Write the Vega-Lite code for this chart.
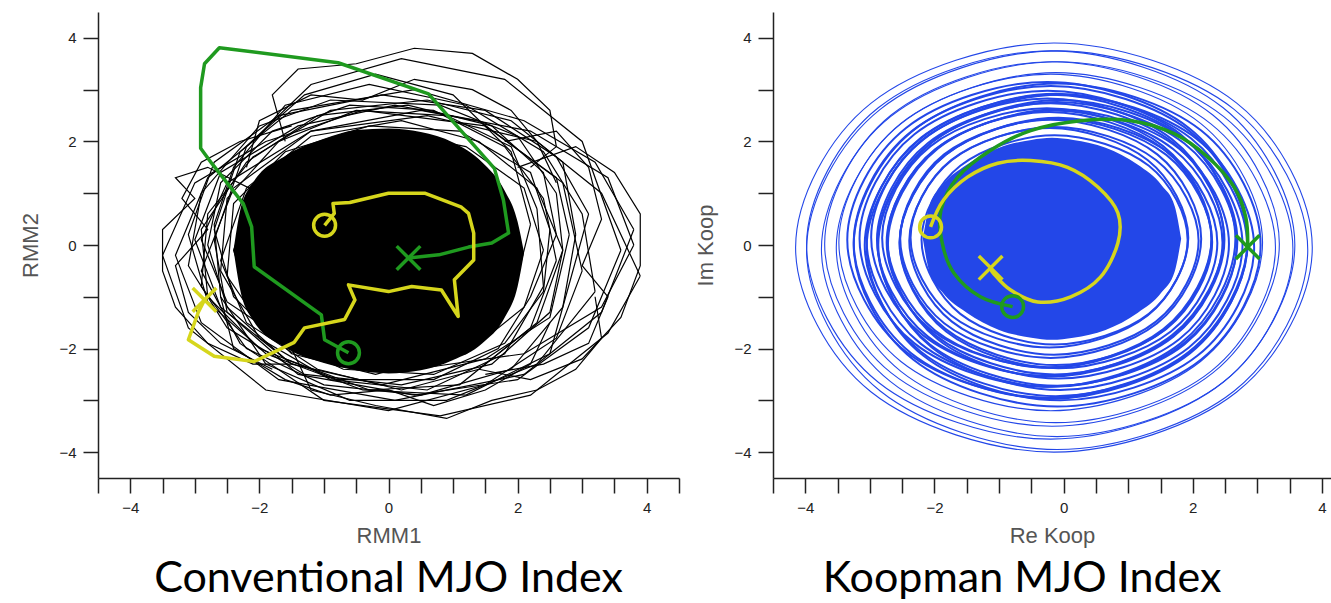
{
  "$schema": "https://vega.github.io/schema/vega-lite/v6.json",
  "padding": {"left": 19, "top": 12, "right": 0, "bottom": 0},
  "spacing": 14,
  "background": "white",
  "config": {
    "view": {"stroke": null},
    "axis": {
      "grid": false,
      "domainColor": "#222",
      "domainWidth": 1.5,
      "tickColor": "#222",
      "tickWidth": 1.5,
      "tickSize": 15,
      "labelFont": "Liberation Sans",
      "labelFontSize": 15,
      "labelColor": "#222",
      "labelPadding": 7,
      "labelOverlap": false,
      "labelFlush": false,
      "format": "d",
      "titleFont": "Liberation Sans",
      "titleFontSize": 22,
      "titleFontWeight": "normal",
      "titleColor": "#555",
      "values": [-4, -3, -2, -1, 0, 1, 2, 3, 4],
      "labelExpr": "datum.value % 2 == 0 ? datum.label : ''"
    },
    "axisX": {"titlePadding": 10},
    "axisY": {"titlePadding": 16},
    "title": {"font": "Lato", "fontSize": 43, "fontWeight": "normal", "color": "#000", "orient": "bottom", "anchor": "middle", "offset": 12}
  },
  "datasets": {
    "coreL": [
      {"x": -2.4, "yt": -0.1, "yb": -0.1}, {"x": -2.3, "yt": 0.65, "yb": -0.85}, {"x": -2.1, "yt": 1.2, "yb": -1.45},
      {"x": -1.6, "yt": 1.72, "yb": -1.98}, {"x": -1.0, "yt": 2.05, "yb": -2.28}, {"x": -0.5, "yt": 2.22, "yb": -2.42},
      {"x": 0.0, "yt": 2.25, "yb": -2.48}, {"x": 0.5, "yt": 2.18, "yb": -2.42}, {"x": 1.0, "yt": 1.98, "yb": -2.22},
      {"x": 1.45, "yt": 1.6, "yb": -1.9}, {"x": 1.8, "yt": 1.05, "yb": -1.4}, {"x": 2.0, "yt": 0.45, "yb": -0.8},
      {"x": 2.1, "yt": -0.15, "yb": -0.15}
    ],
    "loopsL": [
      {"k": "L1", "i": 0, "x": 3.8, "y": 0.3}, {"k": "L1", "i": 1, "x": 3.2, "y": 1.6}, {"k": "L1", "i": 2, "x": 2.1, "y": 2.4}, {"k": "L1", "i": 3, "x": 0.4, "y": 3.0}, {"k": "L1", "i": 4, "x": -1.5, "y": 2.6}, {"k": "L1", "i": 5, "x": -2.8, "y": 1.3}, {"k": "L1", "i": 6, "x": -3.3, "y": -0.2}, {"k": "L1", "i": 7, "x": -2.9, "y": -1.5}, {"k": "L1", "i": 8, "x": -1.7, "y": -2.6}, {"k": "L1", "i": 9, "x": 0.1, "y": -3.0}, {"k": "L1", "i": 10, "x": 2.1, "y": -2.5}, {"k": "L1", "i": 11, "x": 3.3, "y": -1.3}, {"k": "L1", "i": 12, "x": 3.8, "y": 0.3},
      {"k": "L2", "i": 0, "x": 3.6, "y": -0.1}, {"k": "L2", "i": 1, "x": 3.0, "y": 2.0}, {"k": "L2", "i": 2, "x": 1.8, "y": 3.2}, {"k": "L2", "i": 3, "x": 0.2, "y": 3.6}, {"k": "L2", "i": 4, "x": -1.2, "y": 3.1}, {"k": "L2", "i": 5, "x": -2.2, "y": 1.9}, {"k": "L2", "i": 6, "x": -2.7, "y": 0.1}, {"k": "L2", "i": 7, "x": -2.5, "y": -1.3}, {"k": "L2", "i": 8, "x": -1.4, "y": -2.5}, {"k": "L2", "i": 9, "x": 0.4, "y": -2.9}, {"k": "L2", "i": 10, "x": 2.0, "y": -2.6}, {"k": "L2", "i": 11, "x": 3.1, "y": -1.6}, {"k": "L2", "i": 12, "x": 3.6, "y": -0.1},
      {"k": "L3", "i": 0, "x": 3.0, "y": -0.5}, {"k": "L3", "i": 1, "x": 2.7, "y": 1.2}, {"k": "L3", "i": 2, "x": 1.5, "y": 2.3}, {"k": "L3", "i": 3, "x": -0.4, "y": 2.6}, {"k": "L3", "i": 4, "x": -1.9, "y": 2.0}, {"k": "L3", "i": 5, "x": -3.0, "y": 1.2}, {"k": "L3", "i": 6, "x": -3.5, "y": -0.2}, {"k": "L3", "i": 7, "x": -3.1, "y": -1.6}, {"k": "L3", "i": 8, "x": -1.9, "y": -2.8}, {"k": "L3", "i": 9, "x": 0.0, "y": -3.2}, {"k": "L3", "i": 10, "x": 1.5, "y": -2.7}, {"k": "L3", "i": 11, "x": 2.6, "y": -1.8}, {"k": "L3", "i": 12, "x": 3.0, "y": -0.5},
      {"k": "L4", "i": 0, "x": 3.9, "y": -0.6}, {"k": "L4", "i": 1, "x": 3.3, "y": 1.0}, {"k": "L4", "i": 2, "x": 2.3, "y": 2.0}, {"k": "L4", "i": 3, "x": 0.6, "y": 2.5}, {"k": "L4", "i": 4, "x": -1.2, "y": 2.2}, {"k": "L4", "i": 5, "x": -2.4, "y": 1.1}, {"k": "L4", "i": 6, "x": -2.9, "y": -0.5}, {"k": "L4", "i": 7, "x": -2.3, "y": -1.9}, {"k": "L4", "i": 8, "x": -1.0, "y": -3.0}, {"k": "L4", "i": 9, "x": 0.8, "y": -3.3}, {"k": "L4", "i": 10, "x": 2.2, "y": -2.9}, {"k": "L4", "i": 11, "x": 3.4, "y": -1.7}, {"k": "L4", "i": 12, "x": 3.9, "y": -0.6},
      {"k": "L5", "i": 0, "x": 2.8, "y": 0.2}, {"k": "L5", "i": 1, "x": 2.6, "y": 1.3}, {"k": "L5", "i": 2, "x": 1.4, "y": 2.4}, {"k": "L5", "i": 3, "x": 0.1, "y": 2.7}, {"k": "L5", "i": 4, "x": -1.4, "y": 2.3}, {"k": "L5", "i": 5, "x": -2.6, "y": 1.4}, {"k": "L5", "i": 6, "x": -3.0, "y": 0.1}, {"k": "L5", "i": 7, "x": -2.6, "y": -1.2}, {"k": "L5", "i": 8, "x": -1.5, "y": -2.3}, {"k": "L5", "i": 9, "x": -0.1, "y": -2.7}, {"k": "L5", "i": 10, "x": 1.5, "y": -2.2}, {"k": "L5", "i": 11, "x": 2.5, "y": -1.4}, {"k": "L5", "i": 12, "x": 2.8, "y": 0.2},
      {"k": "L6", "i": 0, "x": 2.7, "y": -0.1}, {"k": "L6", "i": 1, "x": 2.3, "y": 1.1}, {"k": "L6", "i": 2, "x": 1.4, "y": 2.0}, {"k": "L6", "i": 3, "x": 0.2, "y": 2.4}, {"k": "L6", "i": 4, "x": -1.2, "y": 2.1}, {"k": "L6", "i": 5, "x": -2.2, "y": 1.1}, {"k": "L6", "i": 6, "x": -2.6, "y": -0.3}, {"k": "L6", "i": 7, "x": -2.2, "y": -1.5}, {"k": "L6", "i": 8, "x": -1.1, "y": -2.4}, {"k": "L6", "i": 9, "x": 0.2, "y": -2.8}, {"k": "L6", "i": 10, "x": 1.4, "y": -2.4}, {"k": "L6", "i": 11, "x": 2.3, "y": -1.5}, {"k": "L6", "i": 12, "x": 2.7, "y": -0.1},
      {"k": "L7", "i": 0, "x": 2.2, "y": 0.4}, {"k": "L7", "i": 1, "x": 1.9, "y": 1.8}, {"k": "L7", "i": 2, "x": 1.0, "y": 2.9}, {"k": "L7", "i": 3, "x": -0.2, "y": 3.3}, {"k": "L7", "i": 4, "x": -1.3, "y": 2.9}, {"k": "L7", "i": 5, "x": -2.3, "y": 1.8}, {"k": "L7", "i": 6, "x": -2.7, "y": 0.3}, {"k": "L7", "i": 7, "x": -2.4, "y": -1.0}, {"k": "L7", "i": 8, "x": -1.5, "y": -2.1}, {"k": "L7", "i": 9, "x": -0.2, "y": -2.5}, {"k": "L7", "i": 10, "x": 1.0, "y": -2.1}, {"k": "L7", "i": 11, "x": 1.9, "y": -1.1}, {"k": "L7", "i": 12, "x": 2.2, "y": 0.4},
      {"k": "L8", "i": 0, "x": 3.8, "y": 0.0}, {"k": "L8", "i": 1, "x": 3.4, "y": 1.3}, {"k": "L8", "i": 2, "x": 2.2, "y": 2.2}, {"k": "L8", "i": 3, "x": 0.5, "y": 2.6}, {"k": "L8", "i": 4, "x": -1.2, "y": 2.2}, {"k": "L8", "i": 5, "x": -2.5, "y": 1.2}, {"k": "L8", "i": 6, "x": -2.9, "y": 0.1}, {"k": "L8", "i": 7, "x": -2.5, "y": -1.1}, {"k": "L8", "i": 8, "x": -1.3, "y": -2.1}, {"k": "L8", "i": 9, "x": 0.4, "y": -2.4}, {"k": "L8", "i": 10, "x": 2.1, "y": -2.1}, {"k": "L8", "i": 11, "x": 3.3, "y": -1.2}, {"k": "L8", "i": 12, "x": 3.8, "y": 0.0},
      {"k": "L9", "i": 0, "x": -1.6, "y": 2.0}, {"k": "L9", "i": 1, "x": -1.8, "y": 2.9}, {"k": "L9", "i": 2, "x": -1.4, "y": 3.4}, {"k": "L9", "i": 3, "x": -0.5, "y": 3.5}, {"k": "L9", "i": 4, "x": 0.4, "y": 3.8}, {"k": "L9", "i": 5, "x": 1.3, "y": 3.7}, {"k": "L9", "i": 6, "x": 2.0, "y": 3.2}, {"k": "L9", "i": 7, "x": 2.5, "y": 2.6}, {"k": "L9", "i": 8, "x": 2.6, "y": 1.9}, {"k": "L9", "i": 9, "x": 2.2, "y": 1.5},
      {"k": "L10", "i": 0, "x": 2.0, "y": 1.5}, {"k": "L10", "i": 1, "x": 2.9, "y": 1.9}, {"k": "L10", "i": 2, "x": 3.5, "y": 1.4}, {"k": "L10", "i": 3, "x": 3.9, "y": 0.6}, {"k": "L10", "i": 4, "x": 3.9, "y": -0.4}, {"k": "L10", "i": 5, "x": 3.6, "y": -1.4}, {"k": "L10", "i": 6, "x": 3.0, "y": -2.2}, {"k": "L10", "i": 7, "x": 2.2, "y": -2.6}, {"k": "L10", "i": 8, "x": 1.4, "y": -2.4},
      {"k": "L11", "i": 0, "x": -1.5, "y": -2.0}, {"k": "L11", "i": 1, "x": -1.2, "y": -2.8}, {"k": "L11", "i": 2, "x": -0.2, "y": -3.1}, {"k": "L11", "i": 3, "x": 0.9, "y": -3.35}, {"k": "L11", "i": 4, "x": 1.6, "y": -3.0}, {"k": "L11", "i": 5, "x": 2.3, "y": -2.8}, {"k": "L11", "i": 6, "x": 2.9, "y": -2.4}, {"k": "L11", "i": 7, "x": 3.3, "y": -1.8}, {"k": "L11", "i": 8, "x": 3.2, "y": -1.0},
      {"k": "L12", "i": 0, "x": -2.0, "y": 1.0}, {"k": "L12", "i": 1, "x": -2.8, "y": 1.5}, {"k": "L12", "i": 2, "x": -3.3, "y": 1.3}, {"k": "L12", "i": 3, "x": -3.0, "y": 0.9}, {"k": "L12", "i": 4, "x": -3.5, "y": 0.3}, {"k": "L12", "i": 5, "x": -3.5, "y": -0.5}, {"k": "L12", "i": 6, "x": -3.3, "y": -1.2}, {"k": "L12", "i": 7, "x": -2.8, "y": -1.9}, {"k": "L12", "i": 8, "x": -2.1, "y": -2.3}, {"k": "L12", "i": 9, "x": -1.5, "y": -2.3},
      {"k": "L13", "i": 0, "x": 2.4, "y": -0.1}, {"k": "L13", "i": 1, "x": 2.1, "y": 1.1}, {"k": "L13", "i": 2, "x": 1.2, "y": 1.9}, {"k": "L13", "i": 3, "x": 0.0, "y": 2.2}, {"k": "L13", "i": 4, "x": -1.2, "y": 1.9}, {"k": "L13", "i": 5, "x": -2.1, "y": 1.0}, {"k": "L13", "i": 6, "x": -2.4, "y": -0.1}, {"k": "L13", "i": 7, "x": -2.1, "y": -1.3}, {"k": "L13", "i": 8, "x": -1.2, "y": -2.1}, {"k": "L13", "i": 9, "x": 0.0, "y": -2.4}, {"k": "L13", "i": 10, "x": 1.2, "y": -2.1}, {"k": "L13", "i": 11, "x": 2.1, "y": -1.2}, {"k": "L13", "i": 12, "x": 2.4, "y": -0.1},
      {"k": "L14", "i": 0, "x": 2.5, "y": 0.3}, {"k": "L14", "i": 1, "x": 2.2, "y": 1.4}, {"k": "L14", "i": 2, "x": 1.1, "y": 2.2}, {"k": "L14", "i": 3, "x": -0.3, "y": 2.3}, {"k": "L14", "i": 4, "x": -1.6, "y": 1.8}, {"k": "L14", "i": 5, "x": -2.4, "y": 0.8}, {"k": "L14", "i": 6, "x": -2.5, "y": -0.6}, {"k": "L14", "i": 7, "x": -1.9, "y": -1.7}, {"k": "L14", "i": 8, "x": -0.7, "y": -2.4}, {"k": "L14", "i": 9, "x": 0.7, "y": -2.5}, {"k": "L14", "i": 10, "x": 1.8, "y": -1.9}, {"k": "L14", "i": 11, "x": 2.4, "y": -0.9}, {"k": "L14", "i": 12, "x": 2.5, "y": 0.3},
      {"k": "L15", "i": 0, "x": 3.1, "y": 0.6}, {"k": "L15", "i": 1, "x": 2.6, "y": 1.7}, {"k": "L15", "i": 2, "x": 1.5, "y": 2.6}, {"k": "L15", "i": 3, "x": -0.1, "y": 2.9}, {"k": "L15", "i": 4, "x": -1.7, "y": 2.5}, {"k": "L15", "i": 5, "x": -2.7, "y": 1.6}, {"k": "L15", "i": 6, "x": -3.1, "y": 0.2}, {"k": "L15", "i": 7, "x": -2.8, "y": -1.1}, {"k": "L15", "i": 8, "x": -1.9, "y": -2.1}, {"k": "L15", "i": 9, "x": -0.4, "y": -2.8}, {"k": "L15", "i": 10, "x": 1.2, "y": -2.9}, {"k": "L15", "i": 11, "x": 2.5, "y": -2.1}, {"k": "L15", "i": 12, "x": 3.1, "y": 0.6},
      {"k": "L16", "i": 0, "x": 2.6, "y": -0.3}, {"k": "L16", "i": 1, "x": 2.4, "y": 0.9}, {"k": "L16", "i": 2, "x": 1.8, "y": 1.9}, {"k": "L16", "i": 3, "x": 0.7, "y": 2.6}, {"k": "L16", "i": 4, "x": -0.6, "y": 2.7}, {"k": "L16", "i": 5, "x": -1.8, "y": 2.2}, {"k": "L16", "i": 6, "x": -2.6, "y": 1.2}, {"k": "L16", "i": 7, "x": -2.8, "y": 0.0}, {"k": "L16", "i": 8, "x": -2.5, "y": -1.2}, {"k": "L16", "i": 9, "x": -1.6, "y": -2.2}, {"k": "L16", "i": 10, "x": -0.3, "y": -2.8}, {"k": "L16", "i": 11, "x": 1.1, "y": -2.7}, {"k": "L16", "i": 12, "x": 2.2, "y": -1.6}, {"k": "L16", "i": 13, "x": 2.6, "y": -0.3},
      {"k": "L17", "i": 0, "x": 2.9, "y": 0.2}, {"k": "L17", "i": 1, "x": 2.7, "y": 1.6}, {"k": "L17", "i": 2, "x": 1.9, "y": 2.4}, {"k": "L17", "i": 3, "x": 0.6, "y": 2.8}, {"k": "L17", "i": 4, "x": -0.9, "y": 2.6}, {"k": "L17", "i": 5, "x": -2.1, "y": 1.7}, {"k": "L17", "i": 6, "x": -2.8, "y": 0.6}, {"k": "L17", "i": 7, "x": -2.9, "y": -0.8}, {"k": "L17", "i": 8, "x": -2.2, "y": -2.0}, {"k": "L17", "i": 9, "x": -1.0, "y": -2.7}, {"k": "L17", "i": 10, "x": 0.5, "y": -2.9}, {"k": "L17", "i": 11, "x": 1.9, "y": -2.4}, {"k": "L17", "i": 12, "x": 2.7, "y": -1.2}, {"k": "L17", "i": 13, "x": 2.9, "y": 0.2},
      {"k": "L18", "i": 0, "x": 2.3, "y": 0.7}, {"k": "L18", "i": 1, "x": 1.9, "y": 1.9}, {"k": "L18", "i": 2, "x": 0.9, "y": 2.5}, {"k": "L18", "i": 3, "x": -0.5, "y": 2.6}, {"k": "L18", "i": 4, "x": -1.7, "y": 2.0}, {"k": "L18", "i": 5, "x": -2.5, "y": 0.9}, {"k": "L18", "i": 6, "x": -2.6, "y": -0.5}, {"k": "L18", "i": 7, "x": -2.0, "y": -1.8}, {"k": "L18", "i": 8, "x": -0.9, "y": -2.6}, {"k": "L18", "i": 9, "x": 0.6, "y": -2.8}, {"k": "L18", "i": 10, "x": 1.8, "y": -2.1}, {"k": "L18", "i": 11, "x": 2.4, "y": -0.8}, {"k": "L18", "i": 12, "x": 2.3, "y": 0.7},
      {"k": "L19", "i": 0, "x": 3.2, "y": -0.9}, {"k": "L19", "i": 1, "x": 3.0, "y": 0.6}, {"k": "L19", "i": 2, "x": 2.4, "y": 1.8}, {"k": "L19", "i": 3, "x": 1.2, "y": 2.7}, {"k": "L19", "i": 4, "x": -0.3, "y": 3.1}, {"k": "L19", "i": 5, "x": -1.6, "y": 2.7}, {"k": "L19", "i": 6, "x": -2.4, "y": 1.5}, {"k": "L19", "i": 7, "x": -2.7, "y": 0.4}, {"k": "L19", "i": 8, "x": -2.6, "y": -1.0}, {"k": "L19", "i": 9, "x": -1.9, "y": -2.3}, {"k": "L19", "i": 10, "x": -0.6, "y": -3.0}, {"k": "L19", "i": 11, "x": 0.9, "y": -3.0}, {"k": "L19", "i": 12, "x": 2.3, "y": -2.3}, {"k": "L19", "i": 13, "x": 3.2, "y": -0.9},
      {"k": "L20", "i": 0, "x": 2.6, "y": 1.0}, {"k": "L20", "i": 1, "x": 2.0, "y": 2.1}, {"k": "L20", "i": 2, "x": 0.8, "y": 2.7}, {"k": "L20", "i": 3, "x": -0.9, "y": 2.8}, {"k": "L20", "i": 4, "x": -2.0, "y": 2.3}, {"k": "L20", "i": 5, "x": -2.9, "y": 1.0}, {"k": "L20", "i": 6, "x": -3.1, "y": -0.4}, {"k": "L20", "i": 7, "x": -2.5, "y": -1.6}, {"k": "L20", "i": 8, "x": -1.3, "y": -2.5}, {"k": "L20", "i": 9, "x": 0.2, "y": -2.7}, {"k": "L20", "i": 10, "x": 1.6, "y": -2.3}, {"k": "L20", "i": 11, "x": 2.5, "y": -1.3}, {"k": "L20", "i": 12, "x": 2.7, "y": -0.1}, {"k": "L20", "i": 13, "x": 2.6, "y": 1.0},
      {"k": "L21", "i": 0, "x": 2.2, "y": -1.0}, {"k": "L21", "i": 1, "x": 2.6, "y": 0.2}, {"k": "L21", "i": 2, "x": 2.4, "y": 1.4}, {"k": "L21", "i": 3, "x": 1.6, "y": 2.3}, {"k": "L21", "i": 4, "x": 0.3, "y": 2.7}, {"k": "L21", "i": 5, "x": -1.1, "y": 2.5}, {"k": "L21", "i": 6, "x": -2.2, "y": 1.6}, {"k": "L21", "i": 7, "x": -2.9, "y": 0.3}, {"k": "L21", "i": 8, "x": -2.8, "y": -1.0}, {"k": "L21", "i": 9, "x": -2.0, "y": -2.0}, {"k": "L21", "i": 10, "x": -0.8, "y": -2.6}, {"k": "L21", "i": 11, "x": 0.7, "y": -2.6}, {"k": "L21", "i": 12, "x": 1.7, "y": -2.0}, {"k": "L21", "i": 13, "x": 2.2, "y": -1.0},
      {"k": "L22", "i": 0, "x": 1.8, "y": 2.0}, {"k": "L22", "i": 1, "x": 2.6, "y": 2.2}, {"k": "L22", "i": 2, "x": 3.1, "y": 1.5}, {"k": "L22", "i": 3, "x": 3.3, "y": 0.5}, {"k": "L22", "i": 4, "x": 3.0, "y": -0.4}, {"k": "L22", "i": 5, "x": 3.4, "y": -1.0}, {"k": "L22", "i": 6, "x": 3.1, "y": -1.9}, {"k": "L22", "i": 7, "x": 2.4, "y": -2.3}, {"k": "L22", "i": 8, "x": 1.5, "y": -2.5},
      {"k": "L23", "i": 0, "x": -2.2, "y": 1.5}, {"k": "L23", "i": 1, "x": -2.0, "y": 2.4}, {"k": "L23", "i": 2, "x": -1.2, "y": 2.9}, {"k": "L23", "i": 3, "x": -0.4, "y": 2.8}, {"k": "L23", "i": 4, "x": 0.4, "y": 3.2}, {"k": "L23", "i": 5, "x": 1.3, "y": 3.0}, {"k": "L23", "i": 6, "x": 1.9, "y": 2.6}, {"k": "L23", "i": 7, "x": 2.3, "y": 2.0}, {"k": "L23", "i": 8, "x": 2.6, "y": 1.2},
      {"k": "L24", "i": 0, "x": -2.6, "y": -1.0}, {"k": "L24", "i": 1, "x": -2.4, "y": -2.0}, {"k": "L24", "i": 2, "x": -1.6, "y": -2.6}, {"k": "L24", "i": 3, "x": -0.9, "y": -2.9}, {"k": "L24", "i": 4, "x": 0.0, "y": -2.8}, {"k": "L24", "i": 5, "x": 0.7, "y": -3.1}, {"k": "L24", "i": 6, "x": 1.5, "y": -2.8}, {"k": "L24", "i": 7, "x": 2.2, "y": -2.3}, {"k": "L24", "i": 8, "x": 2.5, "y": -1.5},
      {"k": "L25", "i": 0, "x": -1.5, "y": 2.3}, {"k": "L25", "i": 1, "x": -2.3, "y": 2.0}, {"k": "L25", "i": 2, "x": -2.9, "y": 1.6}, {"k": "L25", "i": 3, "x": -3.2, "y": 0.9}, {"k": "L25", "i": 4, "x": -2.8, "y": 0.3}, {"k": "L25", "i": 5, "x": -3.3, "y": -0.4}, {"k": "L25", "i": 6, "x": -3.1, "y": -1.3}, {"k": "L25", "i": 7, "x": -2.6, "y": -1.9}, {"k": "L25", "i": 8, "x": -1.8, "y": -2.4}
    ],
    "trajL": [
      {"c": "g", "i": 0, "x": -0.62, "y": -2.08}, {"c": "g", "i": 1, "x": -0.99, "y": -1.83}, {"c": "g", "i": 2, "x": -1.04, "y": -1.35}, {"c": "g", "i": 3, "x": -2.08, "y": -0.42}, {"c": "g", "i": 4, "x": -2.12, "y": 0.35}, {"c": "g", "i": 5, "x": -2.25, "y": 0.8}, {"c": "g", "i": 6, "x": -2.74, "y": 1.58}, {"c": "g", "i": 7, "x": -2.91, "y": 1.87}, {"c": "g", "i": 8, "x": -2.91, "y": 3.04}, {"c": "g", "i": 9, "x": -2.85, "y": 3.5}, {"c": "g", "i": 10, "x": -2.62, "y": 3.81}, {"c": "g", "i": 11, "x": -0.78, "y": 3.52}, {"c": "g", "i": 12, "x": 0.62, "y": 2.92}, {"c": "g", "i": 13, "x": 1.64, "y": 1.48}, {"c": "g", "i": 14, "x": 1.78, "y": 0.87}, {"c": "g", "i": 15, "x": 1.86, "y": 0.23}, {"c": "g", "i": 16, "x": 1.6, "y": 0.04}, {"c": "g", "i": 17, "x": 1.24, "y": -0.04}, {"c": "g", "i": 18, "x": 0.78, "y": -0.19}, {"c": "g", "i": 19, "x": 0.31, "y": -0.25},
      {"c": "y", "i": 0, "x": -0.99, "y": 0.38}, {"c": "y", "i": 1, "x": -0.84, "y": 0.61}, {"c": "y", "i": 2, "x": -0.86, "y": 0.8}, {"c": "y", "i": 3, "x": -0.6, "y": 0.82}, {"c": "y", "i": 4, "x": 0.0, "y": 1.0}, {"c": "y", "i": 5, "x": 0.56, "y": 1.0}, {"c": "y", "i": 6, "x": 1.13, "y": 0.73}, {"c": "y", "i": 7, "x": 1.24, "y": 0.61}, {"c": "y", "i": 8, "x": 1.32, "y": 0.23}, {"c": "y", "i": 9, "x": 1.32, "y": -0.29}, {"c": "y", "i": 10, "x": 1.02, "y": -0.67}, {"c": "y", "i": 11, "x": 1.08, "y": -1.38}, {"c": "y", "i": 12, "x": 0.82, "y": -0.87}, {"c": "y", "i": 13, "x": 0.36, "y": -0.8}, {"c": "y", "i": 14, "x": 0.0, "y": -0.9}, {"c": "y", "i": 15, "x": -0.62, "y": -0.77}, {"c": "y", "i": 16, "x": -0.52, "y": -1.06}, {"c": "y", "i": 17, "x": -0.68, "y": -1.44}, {"c": "y", "i": 18, "x": -1.3, "y": -1.6}, {"c": "y", "i": 19, "x": -1.46, "y": -1.88}, {"c": "y", "i": 20, "x": -2.08, "y": -2.25}, {"c": "y", "i": 21, "x": -2.7, "y": -2.15}, {"c": "y", "i": 22, "x": -3.1, "y": -1.83}, {"c": "y", "i": 23, "x": -2.95, "y": -1.31}, {"c": "y", "i": 24, "x": -2.85, "y": -1.06}
    ],
    "markL": [
      {"c": "g", "m": "o", "x": -0.62, "y": -2.08}, {"c": "g", "m": "x", "x": 0.31, "y": -0.25},
      {"c": "y", "m": "o", "x": -0.99, "y": 0.38}, {"c": "y", "m": "x", "x": -2.85, "y": -1.06}
    ],
    "coreR": [
      {"x": -2.18, "yt": 0.12, "yb": 0.12}, {"x": -2.08, "yt": 0.75, "yb": -0.51}, {"x": -1.88, "yt": 1.15, "yb": -0.91},
      {"x": -1.5, "yt": 1.55, "yb": -1.31}, {"x": -1.0, "yt": 1.88, "yb": -1.64}, {"x": -0.5, "yt": 2.03, "yb": -1.79},
      {"x": -0.18, "yt": 2.07, "yb": -1.83}, {"x": 0.15, "yt": 2.03, "yb": -1.79}, {"x": 0.65, "yt": 1.88, "yb": -1.64},
      {"x": 1.15, "yt": 1.55, "yb": -1.31}, {"x": 1.52, "yt": 1.15, "yb": -0.91}, {"x": 1.72, "yt": 0.75, "yb": -0.51},
      {"x": 1.82, "yt": 0.12, "yb": 0.12}
    ],
    "ringsSparse": [
      {"k": "R1", "i": 0, "x": 3.85, "y": -0.05}, {"k": "R1", "i": 1, "x": 2.68, "y": 2.74}, {"k": "R1", "i": 2, "x": -0.15, "y": 3.9}, {"k": "R1", "i": 3, "x": -2.98, "y": 2.74}, {"k": "R1", "i": 4, "x": -4.15, "y": -0.05}, {"k": "R1", "i": 5, "x": -2.98, "y": -2.84}, {"k": "R1", "i": 6, "x": -0.15, "y": -4.0}, {"k": "R1", "i": 7, "x": 2.68, "y": -2.84},
      {"k": "R2", "i": 0, "x": 3.78, "y": -0.1}, {"k": "R2", "i": 1, "x": 2.64, "y": 2.62}, {"k": "R2", "i": 2, "x": -0.1, "y": 3.75}, {"k": "R2", "i": 3, "x": -2.84, "y": 2.62}, {"k": "R2", "i": 4, "x": -3.98, "y": -0.1}, {"k": "R2", "i": 5, "x": -2.84, "y": -2.82}, {"k": "R2", "i": 6, "x": -0.1, "y": -3.95}, {"k": "R2", "i": 7, "x": 2.64, "y": -2.82},
      {"k": "R3", "i": 0, "x": 3.58, "y": 0.0}, {"k": "R3", "i": 1, "x": 2.47, "y": 2.65}, {"k": "R3", "i": 2, "x": -0.2, "y": 3.75}, {"k": "R3", "i": 3, "x": -2.87, "y": 2.65}, {"k": "R3", "i": 4, "x": -3.98, "y": 0.0}, {"k": "R3", "i": 5, "x": -2.87, "y": -2.65}, {"k": "R3", "i": 6, "x": -0.2, "y": -3.75}, {"k": "R3", "i": 7, "x": 2.47, "y": -2.65},
      {"k": "R4", "i": 0, "x": 3.55, "y": -0.08}, {"k": "R4", "i": 1, "x": 2.48, "y": 2.48}, {"k": "R4", "i": 2, "x": -0.1, "y": 3.54}, {"k": "R4", "i": 3, "x": -2.68, "y": 2.48}, {"k": "R4", "i": 4, "x": -3.75, "y": -0.08}, {"k": "R4", "i": 5, "x": -2.68, "y": -2.64}, {"k": "R4", "i": 6, "x": -0.1, "y": -3.7}, {"k": "R4", "i": 7, "x": 2.48, "y": -2.64},
      {"k": "R5", "i": 0, "x": 3.34, "y": 0.02}, {"k": "R5", "i": 1, "x": 2.31, "y": 2.51}, {"k": "R5", "i": 2, "x": -0.18, "y": 3.54}, {"k": "R5", "i": 3, "x": -2.67, "y": 2.51}, {"k": "R5", "i": 4, "x": -3.7, "y": 0.02}, {"k": "R5", "i": 5, "x": -2.67, "y": -2.47}, {"k": "R5", "i": 6, "x": -0.18, "y": -3.5}, {"k": "R5", "i": 7, "x": 2.31, "y": -2.47},
      {"k": "R6", "i": 0, "x": 3.28, "y": -0.05}, {"k": "R6", "i": 1, "x": 2.28, "y": 2.34}, {"k": "R6", "i": 2, "x": -0.12, "y": 3.33}, {"k": "R6", "i": 3, "x": -2.52, "y": 2.34}, {"k": "R6", "i": 4, "x": -3.52, "y": -0.05}, {"k": "R6", "i": 5, "x": -2.52, "y": -2.44}, {"k": "R6", "i": 6, "x": -0.12, "y": -3.43}, {"k": "R6", "i": 7, "x": 2.28, "y": -2.44},
      {"k": "R7", "i": 0, "x": 3.08, "y": 0.05}, {"k": "R7", "i": 1, "x": 2.12, "y": 2.35}, {"k": "R7", "i": 2, "x": -0.2, "y": 3.3}, {"k": "R7", "i": 3, "x": -2.52, "y": 2.35}, {"k": "R7", "i": 4, "x": -3.48, "y": 0.05}, {"k": "R7", "i": 5, "x": -2.52, "y": -2.25}, {"k": "R7", "i": 6, "x": -0.2, "y": -3.2}, {"k": "R7", "i": 7, "x": 2.12, "y": -2.25}
    ],
    "ringsDense": [
      {"k": "D1", "i": 0, "x": 3.05, "y": 0.0}, {"k": "D1", "i": 1, "x": 2.13, "y": 2.21}, {"k": "D1", "i": 2, "x": -0.1, "y": 3.12}, {"k": "D1", "i": 3, "x": -2.33, "y": 2.21}, {"k": "D1", "i": 4, "x": -3.25, "y": 0.0}, {"k": "D1", "i": 5, "x": -2.33, "y": -2.21}, {"k": "D1", "i": 6, "x": -0.1, "y": -3.12}, {"k": "D1", "i": 7, "x": 2.13, "y": -2.21},
      {"k": "D2", "i": 0, "x": 2.85, "y": 0.05}, {"k": "D2", "i": 1, "x": 1.96, "y": 2.19}, {"k": "D2", "i": 2, "x": -0.2, "y": 3.07}, {"k": "D2", "i": 3, "x": -2.36, "y": 2.19}, {"k": "D2", "i": 4, "x": -3.25, "y": 0.05}, {"k": "D2", "i": 5, "x": -2.36, "y": -2.09}, {"k": "D2", "i": 6, "x": -0.2, "y": -2.97}, {"k": "D2", "i": 7, "x": 1.96, "y": -2.09},
      {"k": "D3", "i": 0, "x": 2.84, "y": 0.0}, {"k": "D3", "i": 1, "x": 1.97, "y": 2.06}, {"k": "D3", "i": 2, "x": -0.12, "y": 2.92}, {"k": "D3", "i": 3, "x": -2.21, "y": 2.06}, {"k": "D3", "i": 4, "x": -3.08, "y": 0.0}, {"k": "D3", "i": 5, "x": -2.21, "y": -2.06}, {"k": "D3", "i": 6, "x": -0.12, "y": -2.92}, {"k": "D3", "i": 7, "x": 1.97, "y": -2.06},
      {"k": "D4", "i": 0, "x": 2.69, "y": 0.08}, {"k": "D4", "i": 1, "x": 1.85, "y": 2.07}, {"k": "D4", "i": 2, "x": -0.18, "y": 2.9}, {"k": "D4", "i": 3, "x": -2.21, "y": 2.07}, {"k": "D4", "i": 4, "x": -3.05, "y": 0.08}, {"k": "D4", "i": 5, "x": -2.21, "y": -1.91}, {"k": "D4", "i": 6, "x": -0.18, "y": -2.74}, {"k": "D4", "i": 7, "x": 1.85, "y": -1.91},
      {"k": "D5", "i": 0, "x": 2.68, "y": 0.02}, {"k": "D5", "i": 1, "x": 1.87, "y": 1.96}, {"k": "D5", "i": 2, "x": -0.1, "y": 2.76}, {"k": "D5", "i": 3, "x": -2.07, "y": 1.96}, {"k": "D5", "i": 4, "x": -2.88, "y": 0.02}, {"k": "D5", "i": 5, "x": -2.07, "y": -1.92}, {"k": "D5", "i": 6, "x": -0.1, "y": -2.72}, {"k": "D5", "i": 7, "x": 1.87, "y": -1.92},
      {"k": "D6", "i": 0, "x": 2.49, "y": 0.1}, {"k": "D6", "i": 1, "x": 1.7, "y": 1.97}, {"k": "D6", "i": 2, "x": -0.2, "y": 2.74}, {"k": "D6", "i": 3, "x": -2.1, "y": 1.97}, {"k": "D6", "i": 4, "x": -2.89, "y": 0.1}, {"k": "D6", "i": 5, "x": -2.1, "y": -1.77}, {"k": "D6", "i": 6, "x": -0.2, "y": -2.54}, {"k": "D6", "i": 7, "x": 1.7, "y": -1.77},
      {"k": "D7", "i": 0, "x": 2.46, "y": 0.05}, {"k": "D7", "i": 1, "x": 1.7, "y": 1.85}, {"k": "D7", "i": 2, "x": -0.14, "y": 2.6}, {"k": "D7", "i": 3, "x": -1.98, "y": 1.85}, {"k": "D7", "i": 4, "x": -2.74, "y": 0.05}, {"k": "D7", "i": 5, "x": -1.98, "y": -1.75}, {"k": "D7", "i": 6, "x": -0.14, "y": -2.5}, {"k": "D7", "i": 7, "x": 1.7, "y": -1.75},
      {"k": "D8", "i": 0, "x": 2.29, "y": 0.1}, {"k": "D8", "i": 1, "x": 1.55, "y": 1.85}, {"k": "D8", "i": 2, "x": -0.22, "y": 2.57}, {"k": "D8", "i": 3, "x": -1.99, "y": 1.85}, {"k": "D8", "i": 4, "x": -2.73, "y": 0.1}, {"k": "D8", "i": 5, "x": -1.99, "y": -1.65}, {"k": "D8", "i": 6, "x": -0.22, "y": -2.37}, {"k": "D8", "i": 7, "x": 1.55, "y": -1.65},
      {"k": "D9", "i": 0, "x": 2.3, "y": 0.06}, {"k": "D9", "i": 1, "x": 1.59, "y": 1.74}, {"k": "D9", "i": 2, "x": -0.12, "y": 2.44}, {"k": "D9", "i": 3, "x": -1.83, "y": 1.74}, {"k": "D9", "i": 4, "x": -2.54, "y": 0.06}, {"k": "D9", "i": 5, "x": -1.83, "y": -1.62}, {"k": "D9", "i": 6, "x": -0.12, "y": -2.32}, {"k": "D9", "i": 7, "x": 1.59, "y": -1.62},
      {"k": "D10", "i": 0, "x": 2.13, "y": 0.12}, {"k": "D10", "i": 1, "x": 1.45, "y": 1.75}, {"k": "D10", "i": 2, "x": -0.2, "y": 2.42}, {"k": "D10", "i": 3, "x": -1.85, "y": 1.75}, {"k": "D10", "i": 4, "x": -2.53, "y": 0.12}, {"k": "D10", "i": 5, "x": -1.85, "y": -1.51}, {"k": "D10", "i": 6, "x": -0.2, "y": -2.18}, {"k": "D10", "i": 7, "x": 1.45, "y": -1.51},
      {"k": "D11", "i": 0, "x": 2.09, "y": 0.08}, {"k": "D11", "i": 1, "x": 1.43, "y": 1.64}, {"k": "D11", "i": 2, "x": -0.15, "y": 2.28}, {"k": "D11", "i": 3, "x": -1.73, "y": 1.64}, {"k": "D11", "i": 4, "x": -2.39, "y": 0.08}, {"k": "D11", "i": 5, "x": -1.73, "y": -1.48}, {"k": "D11", "i": 6, "x": -0.15, "y": -2.12}, {"k": "D11", "i": 7, "x": 1.43, "y": -1.48},
      {"k": "D12", "i": 0, "x": 1.93, "y": 0.14}, {"k": "D12", "i": 1, "x": 1.3, "y": 1.64}, {"k": "D12", "i": 2, "x": -0.22, "y": 2.26}, {"k": "D12", "i": 3, "x": -1.74, "y": 1.64}, {"k": "D12", "i": 4, "x": -2.37, "y": 0.14}, {"k": "D12", "i": 5, "x": -1.74, "y": -1.36}, {"k": "D12", "i": 6, "x": -0.22, "y": -1.98}, {"k": "D12", "i": 7, "x": 1.3, "y": -1.36},
      {"k": "D13", "i": 0, "x": 1.92, "y": 0.1}, {"k": "D13", "i": 1, "x": 1.32, "y": 1.53}, {"k": "D13", "i": 2, "x": -0.14, "y": 2.12}, {"k": "D13", "i": 3, "x": -1.6, "y": 1.53}, {"k": "D13", "i": 4, "x": -2.2, "y": 0.1}, {"k": "D13", "i": 5, "x": -1.6, "y": -1.33}, {"k": "D13", "i": 6, "x": -0.14, "y": -1.92}, {"k": "D13", "i": 7, "x": 1.32, "y": -1.33},
      {"k": "E1", "i": 0, "x": 2.85, "y": 0.1}, {"k": "E1", "i": 1, "x": 1.94, "y": 2.26}, {"k": "E1", "i": 2, "x": -0.25, "y": 3.15}, {"k": "E1", "i": 3, "x": -2.44, "y": 2.26}, {"k": "E1", "i": 4, "x": -3.35, "y": 0.1}, {"k": "E1", "i": 5, "x": -2.44, "y": -2.06}, {"k": "E1", "i": 6, "x": -0.25, "y": -2.95}, {"k": "E1", "i": 7, "x": 1.94, "y": -2.06},
      {"k": "E2", "i": 0, "x": 2.95, "y": -0.05}, {"k": "E2", "i": 1, "x": 2.07, "y": 2.04}, {"k": "E2", "i": 2, "x": -0.05, "y": 2.9}, {"k": "E2", "i": 3, "x": -2.17, "y": 2.04}, {"k": "E2", "i": 4, "x": -3.05, "y": -0.05}, {"k": "E2", "i": 5, "x": -2.17, "y": -2.14}, {"k": "E2", "i": 6, "x": -0.05, "y": -3.0}, {"k": "E2", "i": 7, "x": 2.07, "y": -2.14},
      {"k": "E3", "i": 0, "x": 2.66, "y": 0.12}, {"k": "E3", "i": 1, "x": 1.81, "y": 2.14}, {"k": "E3", "i": 2, "x": -0.25, "y": 2.98}, {"k": "E3", "i": 3, "x": -2.31, "y": 2.14}, {"k": "E3", "i": 4, "x": -3.16, "y": 0.12}, {"k": "E3", "i": 5, "x": -2.31, "y": -1.9}, {"k": "E3", "i": 6, "x": -0.25, "y": -2.74}, {"k": "E3", "i": 7, "x": 1.81, "y": -1.9},
      {"k": "E4", "i": 0, "x": 2.77, "y": 0.0}, {"k": "E4", "i": 1, "x": 1.94, "y": 1.98}, {"k": "E4", "i": 2, "x": -0.05, "y": 2.8}, {"k": "E4", "i": 3, "x": -2.04, "y": 1.98}, {"k": "E4", "i": 4, "x": -2.87, "y": 0.0}, {"k": "E4", "i": 5, "x": -2.04, "y": -1.98}, {"k": "E4", "i": 6, "x": -0.05, "y": -2.8}, {"k": "E4", "i": 7, "x": 1.94, "y": -1.98},
      {"k": "E5", "i": 0, "x": 2.48, "y": 0.15}, {"k": "E5", "i": 1, "x": 1.68, "y": 2.04}, {"k": "E5", "i": 2, "x": -0.25, "y": 2.83}, {"k": "E5", "i": 3, "x": -2.18, "y": 2.04}, {"k": "E5", "i": 4, "x": -2.98, "y": 0.15}, {"k": "E5", "i": 5, "x": -2.18, "y": -1.74}, {"k": "E5", "i": 6, "x": -0.25, "y": -2.53}, {"k": "E5", "i": 7, "x": 1.68, "y": -1.74},
      {"k": "E6", "i": 0, "x": 2.56, "y": 0.02}, {"k": "E6", "i": 1, "x": 1.79, "y": 1.86}, {"k": "E6", "i": 2, "x": -0.08, "y": 2.62}, {"k": "E6", "i": 3, "x": -1.95, "y": 1.86}, {"k": "E6", "i": 4, "x": -2.72, "y": 0.02}, {"k": "E6", "i": 5, "x": -1.95, "y": -1.82}, {"k": "E6", "i": 6, "x": -0.08, "y": -2.58}, {"k": "E6", "i": 7, "x": 1.79, "y": -1.82},
      {"k": "E7", "i": 0, "x": 2.29, "y": 0.14}, {"k": "E7", "i": 1, "x": 1.54, "y": 1.91}, {"k": "E7", "i": 2, "x": -0.26, "y": 2.64}, {"k": "E7", "i": 3, "x": -2.06, "y": 1.91}, {"k": "E7", "i": 4, "x": -2.81, "y": 0.14}, {"k": "E7", "i": 5, "x": -2.06, "y": -1.63}, {"k": "E7", "i": 6, "x": -0.26, "y": -2.36}, {"k": "E7", "i": 7, "x": 1.54, "y": -1.63},
      {"k": "E8", "i": 0, "x": 2.38, "y": 0.04}, {"k": "E8", "i": 1, "x": 1.66, "y": 1.75}, {"k": "E8", "i": 2, "x": -0.08, "y": 2.46}, {"k": "E8", "i": 3, "x": -1.82, "y": 1.75}, {"k": "E8", "i": 4, "x": -2.54, "y": 0.04}, {"k": "E8", "i": 5, "x": -1.82, "y": -1.67}, {"k": "E8", "i": 6, "x": -0.08, "y": -2.38}, {"k": "E8", "i": 7, "x": 1.66, "y": -1.67}
    ],
    "trajR": [
      {"c": "g", "i": 0, "x": -0.79, "y": -1.19}, {"c": "g", "i": 1, "x": -1.29, "y": -1.0}, {"c": "g", "i": 2, "x": -1.7, "y": -0.54}, {"c": "g", "i": 3, "x": -1.88, "y": 0.04}, {"c": "g", "i": 4, "x": -1.9, "y": 0.67}, {"c": "g", "i": 5, "x": -1.64, "y": 1.31}, {"c": "g", "i": 6, "x": -1.13, "y": 1.83}, {"c": "g", "i": 7, "x": -0.51, "y": 2.21}, {"c": "g", "i": 8, "x": 0.26, "y": 2.4}, {"c": "g", "i": 9, "x": 1.04, "y": 2.4}, {"c": "g", "i": 10, "x": 1.71, "y": 2.15}, {"c": "g", "i": 11, "x": 2.23, "y": 1.7}, {"c": "g", "i": 12, "x": 2.64, "y": 1.12}, {"c": "g", "i": 13, "x": 2.82, "y": 0.54}, {"c": "g", "i": 14, "x": 2.85, "y": -0.04},
      {"c": "y", "i": 0, "x": -2.06, "y": 0.35}, {"c": "y", "i": 1, "x": -1.86, "y": 0.87}, {"c": "y", "i": 2, "x": -1.49, "y": 1.31}, {"c": "y", "i": 3, "x": -1.02, "y": 1.58}, {"c": "y", "i": 4, "x": -0.51, "y": 1.63}, {"c": "y", "i": 5, "x": 0.06, "y": 1.5}, {"c": "y", "i": 6, "x": 0.53, "y": 1.12}, {"c": "y", "i": 7, "x": 0.84, "y": 0.62}, {"c": "y", "i": 8, "x": 0.84, "y": 0.04}, {"c": "y", "i": 9, "x": 0.57, "y": -0.62}, {"c": "y", "i": 10, "x": 0.11, "y": -1.0}, {"c": "y", "i": 11, "x": -0.4, "y": -1.1}, {"c": "y", "i": 12, "x": -0.82, "y": -0.87}, {"c": "y", "i": 13, "x": -1.09, "y": -0.54}, {"c": "y", "i": 14, "x": -1.13, "y": -0.44}
    ],
    "markR": [
      {"c": "g", "m": "o", "x": -0.79, "y": -1.19}, {"c": "g", "m": "x", "x": 2.85, "y": -0.04},
      {"c": "y", "m": "o", "x": -2.06, "y": 0.35}, {"c": "y", "m": "x", "x": -1.13, "y": -0.44}
    ]
  },
  "hconcat": [
    {
      "width": 581,
      "height": 466,
      "title": {"text": "Conventional MJO Index"},
      "layer": [
        {
          "data": {"name": "coreL"},
          "mark": {"type": "area", "color": "#000", "interpolate": "monotone"},
          "encoding": {
            "x": {"field": "x", "type": "quantitative", "title": "RMM1", "scale": {"domain": [-4.5, 4.5], "nice": false, "zero": false}},
            "y": {"field": "yt", "type": "quantitative", "title": "RMM2", "scale": {"domain": [-4.5, 4.5], "nice": false, "zero": false}},
            "y2": {"field": "yb"}
          }
        },
        {
          "data": {"name": "loopsL"},
          "mark": {"type": "line", "color": "#000", "strokeWidth": 1.2},
          "encoding": {
            "x": {"field": "x", "type": "quantitative"},
            "y": {"field": "y", "type": "quantitative"},
            "detail": {"field": "k"},
            "order": {"field": "i", "type": "quantitative"}
          }
        },
        {
          "data": {"name": "trajL"},
          "mark": {"type": "line", "strokeWidth": 3.5, "strokeJoin": "round"},
          "encoding": {
            "x": {"field": "x", "type": "quantitative"},
            "y": {"field": "y", "type": "quantitative"},
            "color": {"field": "c", "type": "nominal", "scale": {"domain": ["g", "y"], "range": ["#1f9a1f", "#d6d61c"]}, "legend": null},
            "order": {"field": "i", "type": "quantitative"}
          }
        },
        {
          "data": {"name": "markL"},
          "mark": {"type": "point", "filled": false, "strokeWidth": 3.5, "opacity": 1},
          "encoding": {
            "x": {"field": "x", "type": "quantitative"},
            "y": {"field": "y", "type": "quantitative"},
            "color": {"field": "c", "type": "nominal", "scale": {"domain": ["g", "y"], "range": ["#1f9a1f", "#d6d61c"]}, "legend": null},
            "shape": {"field": "m", "type": "nominal", "scale": {"domain": ["o", "x"], "range": ["circle", "M-1,-1L1,1M-1,1L1,-1"]}, "legend": null},
            "size": {"field": "m", "type": "nominal", "scale": {"domain": ["o", "x"], "range": [480, 560]}, "legend": null}
          }
        }
      ]
    },
    {
      "width": 558,
      "height": 466,
      "title": {"text": "Koopman MJO Index", "dx": -30},
      "layer": [
        {
          "data": {"name": "coreR"},
          "mark": {"type": "area", "color": "#2347e8", "interpolate": "monotone"},
          "encoding": {
            "x": {"field": "x", "type": "quantitative", "title": "Re Koop", "scale": {"domain": [-4.5, 4.14], "nice": false, "zero": false}},
            "y": {"field": "yt", "type": "quantitative", "title": "Im Koop", "scale": {"domain": [-4.5, 4.5], "nice": false, "zero": false}},
            "y2": {"field": "yb"}
          }
        },
        {
          "data": {"name": "ringsSparse"},
          "mark": {"type": "line", "color": "#2347e8", "strokeWidth": 1.1, "interpolate": "cardinal-closed"},
          "encoding": {
            "x": {"field": "x", "type": "quantitative"},
            "y": {"field": "y", "type": "quantitative"},
            "detail": {"field": "k"},
            "order": {"field": "i", "type": "quantitative"}
          }
        },
        {
          "data": {"name": "ringsDense"},
          "mark": {"type": "line", "color": "#2347e8", "strokeWidth": 2, "interpolate": "cardinal-closed"},
          "encoding": {
            "x": {"field": "x", "type": "quantitative"},
            "y": {"field": "y", "type": "quantitative"},
            "detail": {"field": "k"},
            "order": {"field": "i", "type": "quantitative"}
          }
        },
        {
          "data": {"name": "trajR"},
          "mark": {"type": "line", "strokeWidth": 3.5, "interpolate": "cardinal"},
          "encoding": {
            "x": {"field": "x", "type": "quantitative"},
            "y": {"field": "y", "type": "quantitative"},
            "color": {"field": "c", "type": "nominal", "scale": {"domain": ["g", "y"], "range": ["#1f9a1f", "#d6d61c"]}, "legend": null},
            "order": {"field": "i", "type": "quantitative"}
          }
        },
        {
          "data": {"name": "markR"},
          "mark": {"type": "point", "filled": false, "strokeWidth": 3.5, "opacity": 1},
          "encoding": {
            "x": {"field": "x", "type": "quantitative"},
            "y": {"field": "y", "type": "quantitative"},
            "color": {"field": "c", "type": "nominal", "scale": {"domain": ["g", "y"], "range": ["#1f9a1f", "#d6d61c"]}, "legend": null},
            "shape": {"field": "m", "type": "nominal", "scale": {"domain": ["o", "x"], "range": ["circle", "M-1,-1L1,1M-1,1L1,-1"]}, "legend": null},
            "size": {"field": "m", "type": "nominal", "scale": {"domain": ["o", "x"], "range": [260, 480]}, "legend": null}
          }
        }
      ]
    }
  ]
}
